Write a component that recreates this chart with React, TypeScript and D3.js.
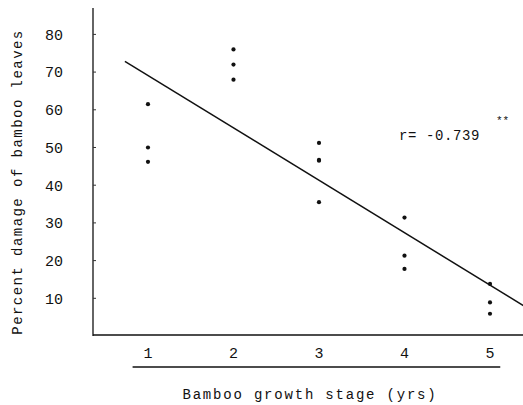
import React from 'react'
import * as d3 from 'd3'

// growth stage (yrs) and percent damage
const stages = [1, 1, 1, 2, 2, 2, 3, 3, 3, 3, 4, 4, 4, 5, 5, 5]
const damage = [61.5, 50, 46.2, 76, 72, 68, 51.2, 46.7, 46.5, 35.5, 31.4, 21.3, 17.8, 13.8, 8.9, 5.9]
const yTicks = [10, 20, 30, 40, 50, 60, 70, 80]
const xTicks = [1, 2, 3, 4, 5]
// regression line as drawn on the figure
const fitIntercept = 83.0
const fitSlope = -13.9
const fitRange = [0.73, 5.39]
const rLabel = 'r= -0.739'

const W = 523
const H = 405
const font = '"Liberation Mono", "DejaVu Sans Mono", monospace'

const App = () => {
  const x = d3.scaleLinear().domain([0.357, 5.386]).range([93, 523])
  const y = d3.scaleLinear().domain([0, 87]).range([336, 8])

  const fit = d3.line<number>()
    .x(d => x(d))
    .y(d => y(fitIntercept + fitSlope * d))

  const pts = stages.map((s, i) => ({ s, v: damage[i] }))

  return (
    <svg width={W} height={H} style={{ position: 'absolute', left: 0, top: 0, background: '#fff' }}>
      <g fill="#111" stroke="none" fontFamily={font}>
        {/* y axis */}
        <line x1={x.range()[0]} x2={x.range()[0]} y1={y.range()[1]} y2={y(0)} stroke="#111" strokeWidth={1.3} />
        {yTicks.map(t => (
          <g key={t}>
            <line x1={93} x2={96} y1={y(t)} y2={y(t)} stroke="#333" strokeWidth={1} />
            <text x={63} y={y(t)} dy="0.36em" textAnchor="end" fontSize={15}>{t}</text>
          </g>
        ))}
        <text
          transform={`translate(22,${(y(0) + 28) / 2}) rotate(-90)`}
          textAnchor="middle"
          fontSize={14}
          letterSpacing={1.45}
        >
          Percent damage of bamboo leaves
        </text>

        {/* x axis */}
        <line x1={x.range()[0]} x2={x.range()[1]} y1={y(0) - 1} y2={y(0) - 1} stroke="#111" strokeWidth={1.3} />
        {xTicks.map(t => (
          <text key={t} x={x(t)} y={358} textAnchor="middle" fontSize={15}>{t}</text>
        ))}
        <line x1={x(0.82)} x2={x(5.12)} y1={367} y2={367} stroke="#111" strokeWidth={1.3} />
        <text x={310} y={399} textAnchor="middle" fontSize={14} letterSpacing={1.8}>
          Bamboo growth stage (yrs)
        </text>

        {/* regression */}
        <path d={fit(fitRange) ?? ''} fill="none" stroke="#111" strokeWidth={1.5} />
        {pts.map((p, i) => (
          <circle key={i} cx={x(p.s)} cy={y(p.v)} r={2.1} />
        ))}

        <text x={399} y={140} fontSize={14} letterSpacing={0.6}>{rLabel}</text>
        <text x={496} y={124} fontSize={11}>**</text>
      </g>
    </svg>
  )
}

export default App
